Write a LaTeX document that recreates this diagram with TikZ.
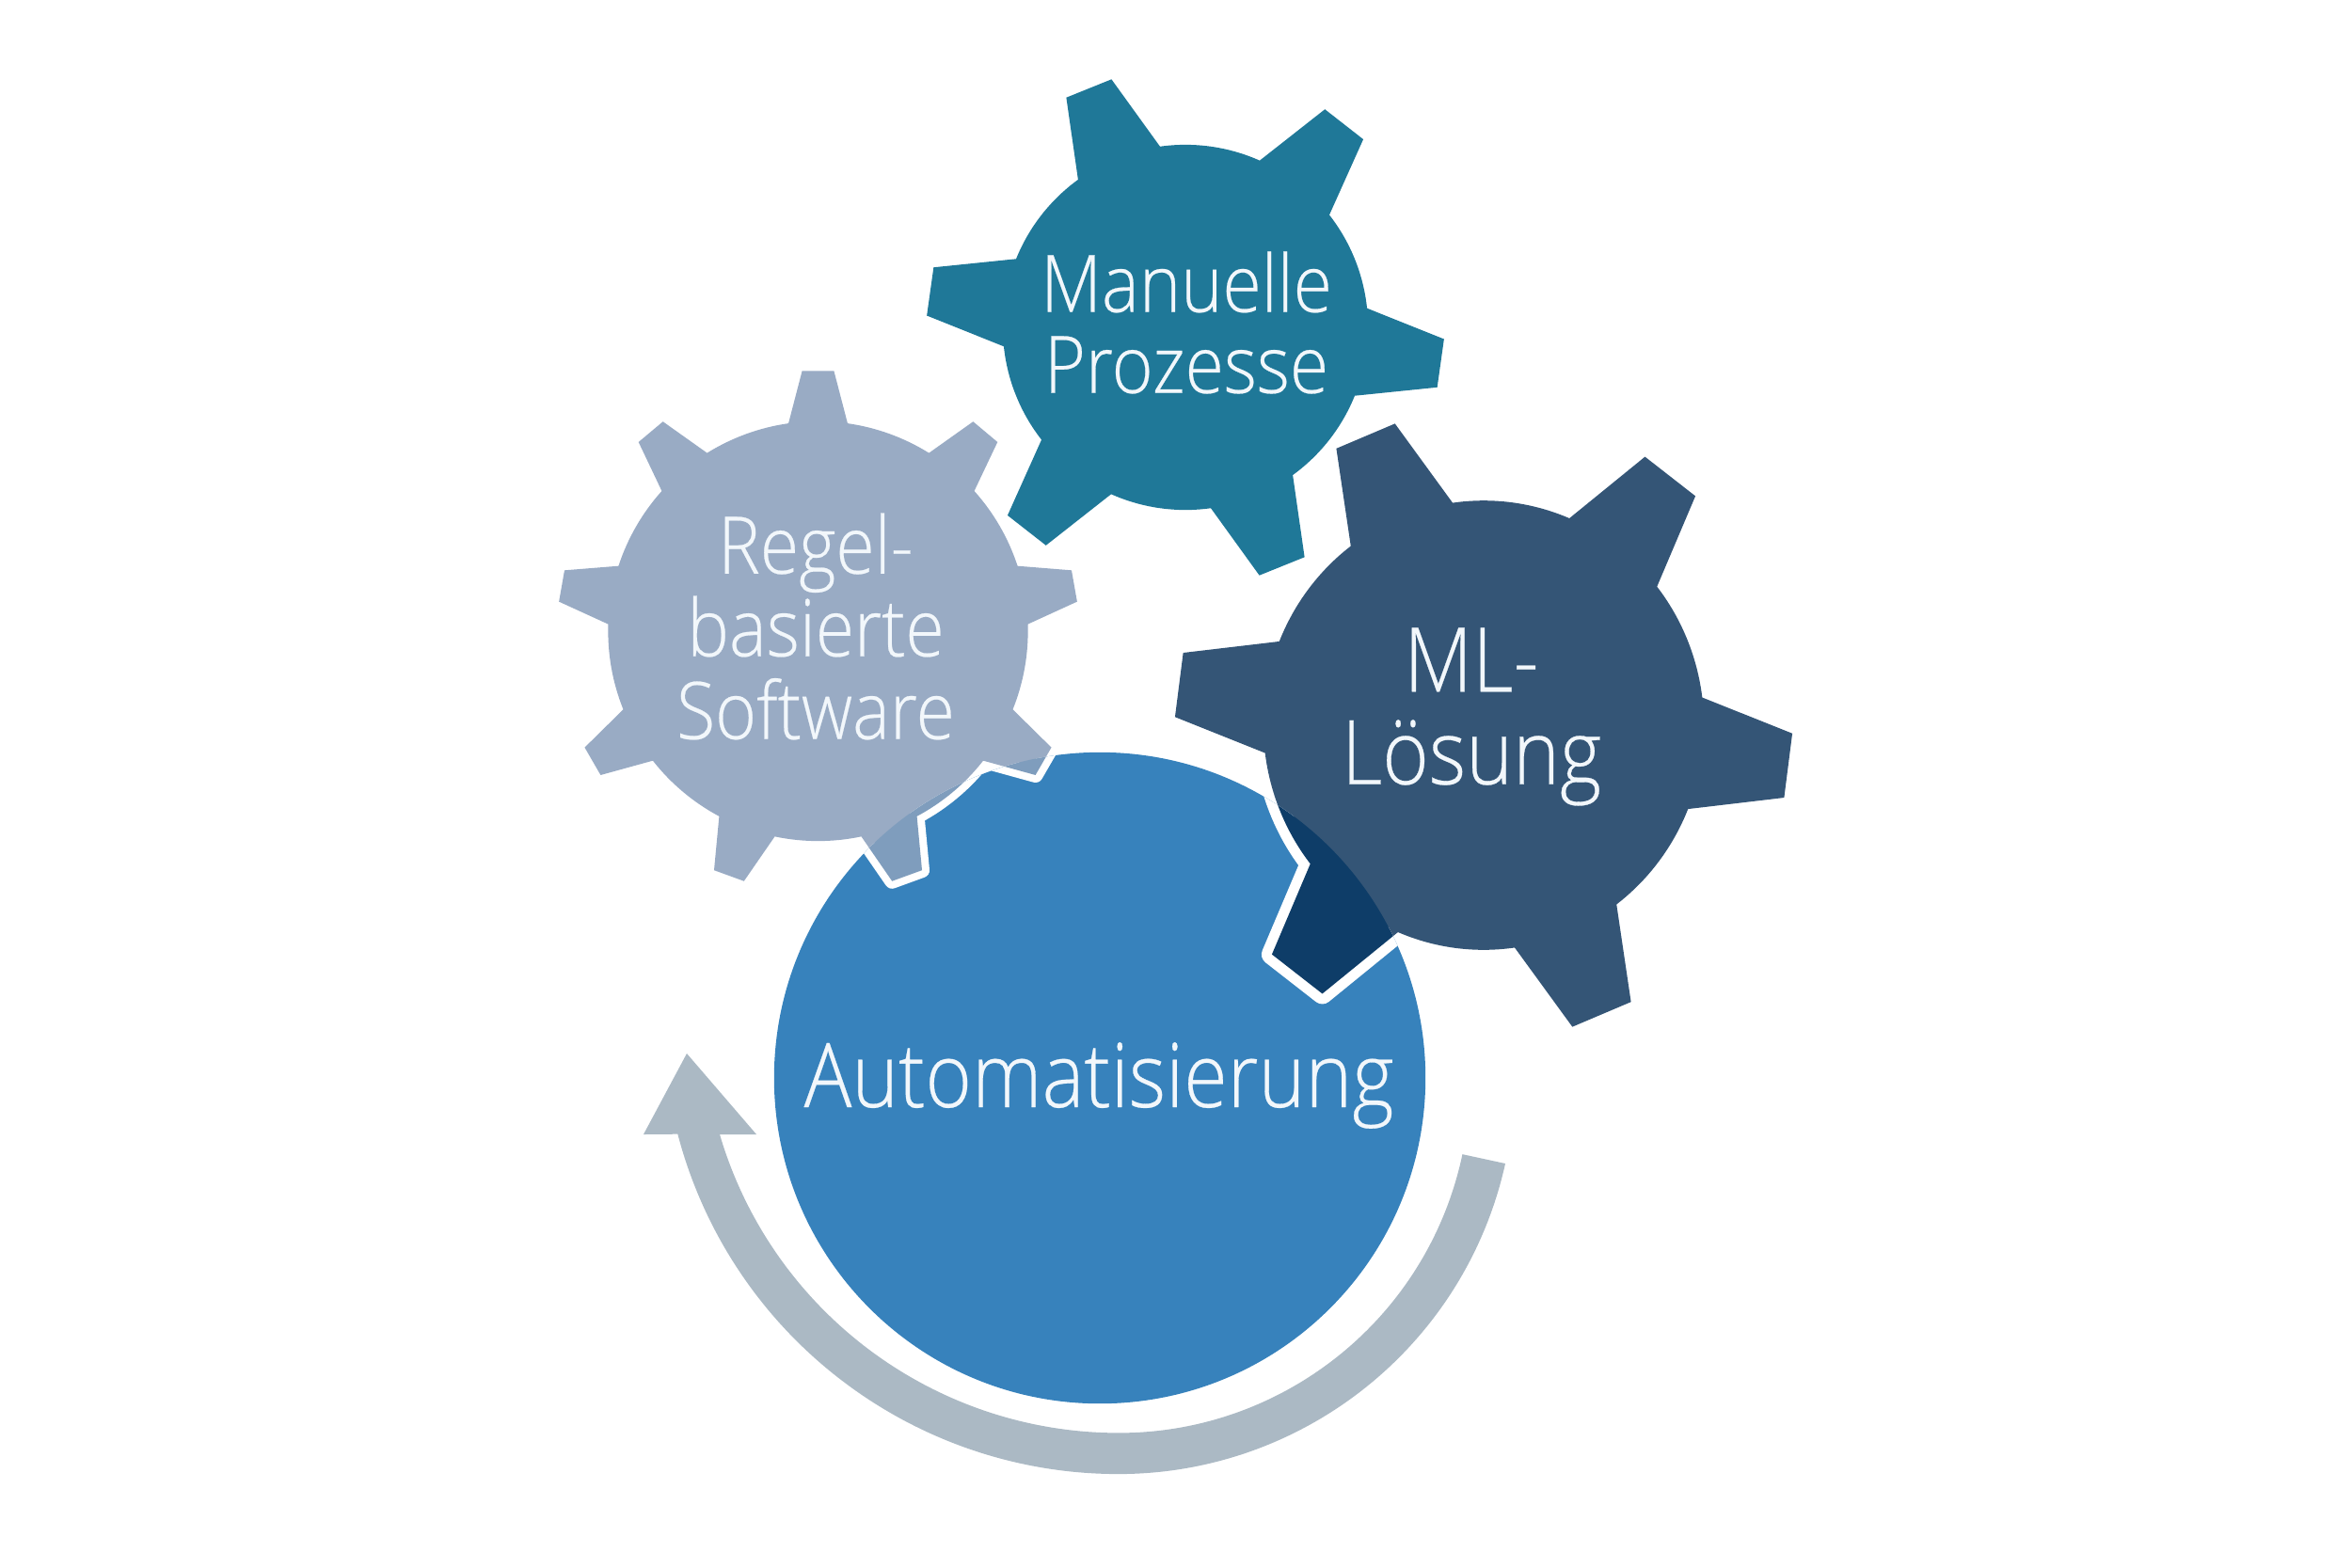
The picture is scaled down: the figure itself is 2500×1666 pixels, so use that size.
\documentclass[tikz,border=0pt]{standalone}
\usepackage{fontspec}
\setmainfont{Open Sans Light}[FakeStretch=0.89,FakeBold=0.3]
\definecolor{autoblue}{HTML}{3782BC}
\definecolor{manuellblue}{HTML}{1F7898}
\definecolor{mlblue}{HTML}{345576}
\definecolor{mldark}{HTML}{0E3D68}
\definecolor{regelblue}{HTML}{99ABC4}
\definecolor{regeldark}{HTML}{7F9DBD}
\definecolor{arrowgray}{HTML}{ABB9C4}
\definecolor{labelwhite}{HTML}{F2F7FB}
\tikzset{gearlabel/.style={text=labelwhite,align=center,inner sep=0pt}}
\newcommand{\gearoutline}[6]{({#4+#5}:#1) \foreach \tooth [evaluate=\tooth as \ang using #4-(\tooth-1)*360/#3] in {1,...,#3} {-- ({\ang+#5}:#1) -- ({\ang+#6}:#2) -- ({\ang-#6}:#2) -- ({\ang-#5}:#1) arc[start angle=\ang-#5,delta angle={-360/#3+2*#5},radius=#1]} -- cycle}
\def\regelgear{\gearoutline{2.23cm}{2.77cm}{9}{90}{8.1}{3.5}}
\def\mlgear{\gearoutline{2.34cm}{3.28cm}{6}{52.6}{14.5}{5.9}}
\begin{document}
\begin{tikzpicture}[x=0.01cm,y=-0.01cm]
\useasboundingbox (0,0) rectangle (2500,1666);
\fill[autoblue] (1169,1146) circle[radius=3.46cm];
\fill[arrowgray] (1600,1237) arc[start angle=-12.5,end angle=-90,radius=4.21cm] arc[start angle=-90,end angle=-165.3,radius=4.84cm] -- (684,1206) -- (730,1120) -- (804,1206) -- (765,1206) arc[start angle=-163.6,end angle=-90,radius=4.42cm] arc[start angle=-90,end angle=-11.9,radius=3.73cm] -- cycle;
\fill[manuellblue,shift={(1260,348)}] \gearoutline{1.94cm}{2.75cm}{6}{52}{14}{5.4};
\fill[regelblue,shift={(869.5,671)}] \regelgear;
\fill[mlblue,shift={(1577,771)},yscale=1.02] \mlgear;
\begin{scope}
\clip (1169,1146) circle[radius=3.46cm];
\draw[white,line width=0.16cm,line join=round,shift={(869.5,671)}] \regelgear;
\fill[regeldark,shift={(869.5,671)}] \regelgear;
\draw[white,line width=0.22cm,line join=round,shift={(1577,771)},yscale=1.02] \mlgear;
\fill[mldark,shift={(1577,771)},yscale=1.02] \mlgear;
\end{scope}
\node[gearlabel,font=\fontsize{24}{24.5}\selectfont] (manuelle) at (1261,343) {Manuelle\\Prozesse};
\node[gearlabel,font=\fontsize{24}{25}\selectfont] (regel) at (867,666) {Regel-\\basierte\\Software};
\node[gearlabel,font=\fontsize{27}{28}\selectfont] (ml) at (1564,762) {ML-\\Lösung};
\node[gearlabel,font=\fontsize{27}{28}\selectfont] (auto) at (1168,1154) {Automatisierung};
\end{tikzpicture}
\end{document}
